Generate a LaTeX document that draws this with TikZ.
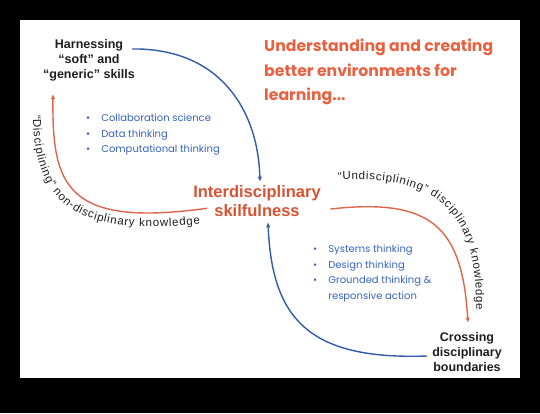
\documentclass[tikz,border=0pt]{standalone}
\usepackage{fontspec}
\setmainfont{Liberation Sans}
\newfontfamily\popfont{Poppins}
\usetikzlibrary{decorations.text,arrows.meta,calc}
\definecolor{titlered}{RGB}{232,98,66}
\definecolor{midred}{RGB}{216,82,52}
\definecolor{arrred}{RGB}{224,100,74}
\definecolor{arrblue}{RGB}{48,92,170}
\definecolor{txtblue}{RGB}{56,100,190}
\definecolor{txtdark}{RGB}{30,30,30}
\tikzset{
  blacklbl/.style={font=\fontsize{12.5}{15}\selectfont\bfseries, align=center, inner sep=0pt, text=txtdark},
  redlbl/.style={font=\fontsize{16.5}{19}\selectfont\bfseries, align=center, inner sep=0pt, text=midred},
  titlelbl/.style={font=\popfont\bfseries\fontsize{15.7}{24.5}\selectfont, align=left, inner sep=0pt, text=titlered},
  bulletlbl/.style={font=\popfont\fontsize{10}{15.5}\selectfont, inner sep=0pt, text=txtblue},
  bluearr/.style={draw=arrblue, line width=1.4pt, -{Latex[length=5pt,width=4.5pt]}},
  redarr/.style={draw=arrred, line width=1.4pt, -{Latex[length=5pt,width=4.5pt]}},
}
\begin{document}
\begin{tikzpicture}[x=1pt,y=-1pt]
\fill[black] (0,0) rectangle (540,413);
\fill[white] (20,20) rectangle (520,378);
\useasboundingbox (0,0) rectangle (540,413);

\node[blacklbl] (harn) at (89,60) {Harnessing\\“soft” and\\“generic” skills};
\node[redlbl] (inter) at (257,201) {Interdisciplinary\\skilfulness};
\node[blacklbl] (cross) at (467,352) {Crossing\\disciplinary\\boundaries};
\node[titlelbl, anchor=west] (title) at (264,72) {Understanding and creating\\better environments for\\learning...};

\node[bulletlbl, anchor=west] (bl1) at (86,134) {\begin{tabular}{@{}l@{\hspace{11pt}}l@{}}•&Collaboration science\\•&Data thinking\\•&Computational thinking\end{tabular}};
\node[bulletlbl, anchor=west] (bl2) at (313,273) {\begin{tabular}{@{}l@{\hspace{11pt}}l@{}}•&Systems thinking\\•&Design thinking\\•&Grounded thinking \&\\&responsive action\end{tabular}};

% connectors
\draw[bluearr] ([xshift=-3pt,yshift=-10pt]harn.north east) .. controls (220,48) and (258,110) .. ([xshift=3pt,yshift=3.5pt]inter.north);
\draw[redarr] ([xshift=14pt,yshift=8.5pt]inter.south west) .. controls (65,228) and (52,185) .. ([xshift=-36pt,yshift=-13pt]harn.south);
\draw[redarr] ([xshift=9.5pt,yshift=-8pt]inter.east) .. controls (430,198) and (462,225) .. ([xshift=1pt,yshift=9.5pt]cross.north);
\draw[bluearr] ([xshift=-5pt,yshift=-4pt]cross.west) .. controls (310,360) and (272,320) .. ([xshift=11pt,yshift=-5.5pt]inter.south);

% curved labels
\path[decorate, decoration={text along path, text color=txtdark,
  text={|\fontsize{11.5}{13}\selectfont|“Disciplining” non-disciplinary knowledge},
  text align=fit to path}]
  (33,115) .. controls (33,215) and (90,235) .. (200,224);
\path[decorate, decoration={text along path, text color=txtdark,
  text={|\fontsize{11.5}{13}\selectfont|“Undisciplining” disciplinary knowledge},
  text align=fit to path}]
  (338,180) .. controls (430,175) and (478,205) .. (476,310);
\end{tikzpicture}
\end{document}
